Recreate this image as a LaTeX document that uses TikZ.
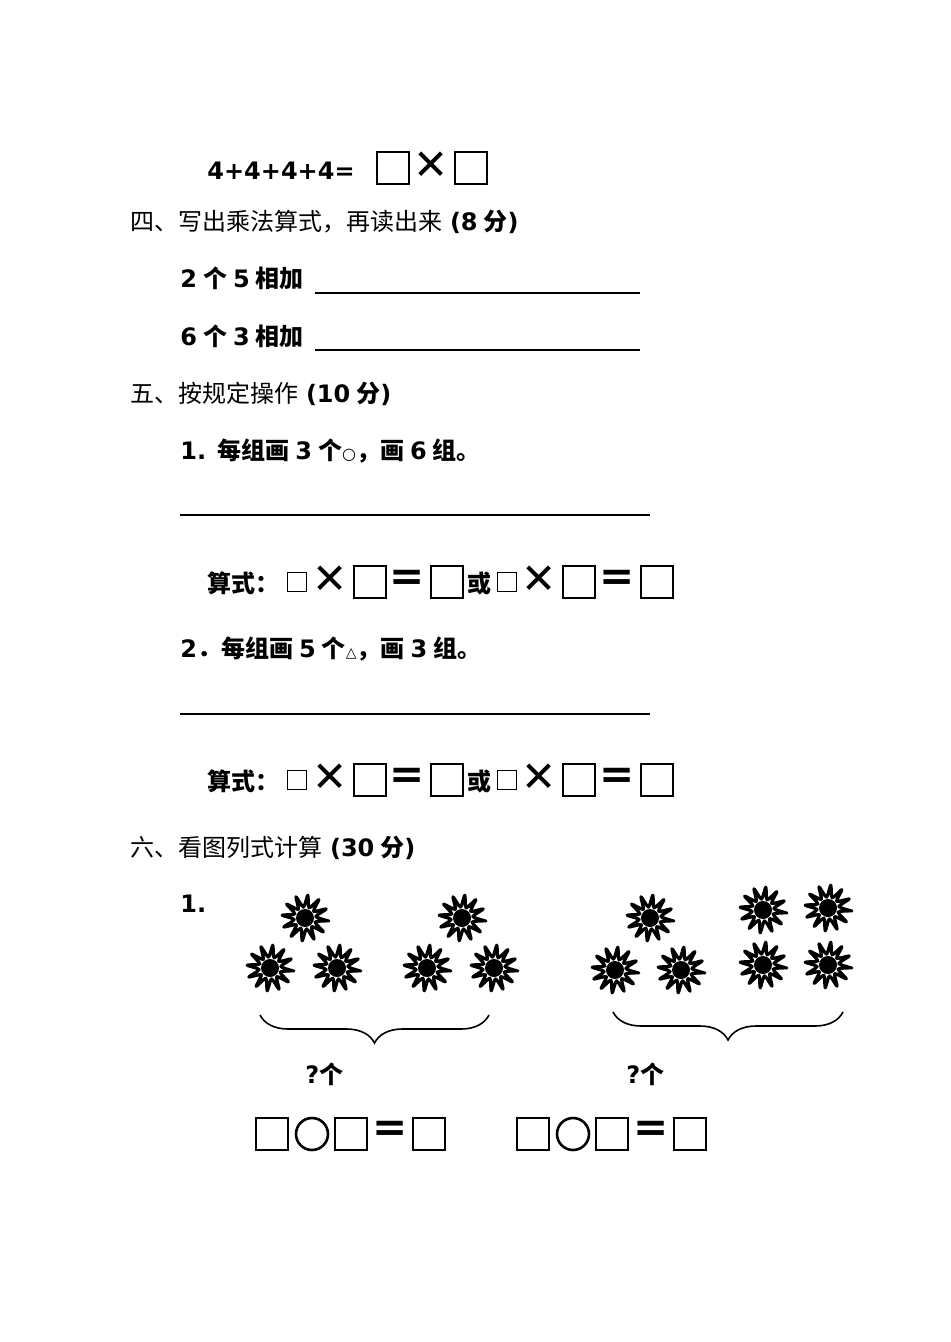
\documentclass[tikz,border=0pt]{standalone}
\usepackage{fontspec}
\setmainfont{DejaVu Sans}
\newfontfamily\cjk{Noto Sans CJK SC}
\usetikzlibrary{decorations.pathreplacing}
\newcommand\gp{\hspace{3pt}}
\tikzset{
 bx/.style={draw,line width=1.3pt,minimum width=16pt,minimum height=16pt,inner sep=0pt},
 sbx/.style={draw,line width=0.8pt,minimum width=9.5pt,minimum height=9.5pt,inner sep=0pt},
 tx/.style={anchor=base west,inner sep=0pt,font=\fontsize{12}{14}\selectfont},
 op/.style={inner sep=0pt,font=\fontsize{21}{21}\selectfont\bfseries},
 rule/.style={line width=0.7pt},
 bracestyle/.style={line width=0.8pt,decorate,decoration={brace,amplitude=14pt,mirror}},
 flower/.pic={
   \draw[line width=1.6pt,fill=white,line join=round] plot[smooth cycle,tension=0.4,samples=25,domain=0:24,variable=\k]
     ({(mod(\k,2)==0?23:11)*cos(\k*15+7)},{(mod(\k,2)==0?23:11)*sin(\k*15+7)});
   \fill (0,0) circle (9);
 }
}
\begin{document}
\begin{tikzpicture}[x=0.5pt,y=-0.5pt]
\path[use as bounding box] (0,0) rectangle (950,1342);
\node[tx] (t1) at (207,180) {\bfseries 4+4+4+4=};
\node[bx] (b1) at (393,168) {};
\node[op] (x1) at (431,166) {✕};
\node[bx] (b2) at (471,168) {};
\node[tx] (h4) at (130,231) {{\cjk 四、写出乘法算式，再读出来} \bfseries(8\gp{\cjk 分})};
\node[tx] (q1) at (180,288) {\bfseries 2\gp{\cjk\bfseries 个}\gp 5\gp{\cjk\bfseries 相加}};
\draw[rule] (315,293) coordinate (l1a) -- (640,293) coordinate (l1b);
\node[tx] (q2) at (180,345) {\bfseries 6\gp{\cjk\bfseries 个}\gp 3\gp{\cjk\bfseries 相加}};
\draw[rule] (315,350) coordinate (l2a) -- (640,350) coordinate (l2b);
\node[tx] (h5) at (130,402) {{\cjk 五、按规定操作} \bfseries(10\gp{\cjk 分})};
\node[tx] (p1) at (180,459) {\bfseries 1. {\cjk\bfseries 每组画}\gp 3\gp{\cjk\bfseries 个}{\fontsize{8}{8}\selectfont ○}{\cjk\bfseries ，画}\gp 6\gp{\cjk\bfseries 组。}};
\draw[rule] (180,515) coordinate (l3a) -- (650,515) coordinate (l3b);
\foreach \yy/\nm in {0/a,198/b}{
 \begin{scope}[yshift=-\yy*0.5pt]
 \node[tx] (s\nm) at (207,592) {\cjk\bfseries 算式：};
 \node[sbx] (s1\nm) at (297,582) {};
 \node[op] (x\nm1) at (330,580) {✕};
 \node[bx] (s2\nm) at (370,582) {};
 \node[op] (e\nm1) at (407,580) {=};
 \node[bx] (s3\nm) at (447,582) {};
 \node[tx] (o\nm) at (467,592) {\cjk\bfseries 或};
 \node[sbx] (s4\nm) at (507,582) {};
 \node[op] (x\nm2) at (539,580) {✕};
 \node[bx] (s5\nm) at (579,582) {};
 \node[op] (e\nm2) at (617,580) {=};
 \node[bx] (s6\nm) at (657,582) {};
 \end{scope}}
\node[tx] (p2) at (180,657) {\bfseries 2{\cjk\bfseries ．每组画}\gp 5\gp{\cjk\bfseries 个}{\fontsize{7}{7}\selectfont △}{\cjk\bfseries ，画}\gp 3\gp{\cjk\bfseries 组。}};
\draw[rule] (180,714) coordinate (l4a) -- (650,714) coordinate (l4b);
\node[tx] (h6) at (130,856) {{\cjk 六、看图列式计算} \bfseries(30\gp{\cjk 分})};
\node[tx] (n1) at (180,912) {\bfseries 1.};
\foreach \px/\py in {305/918,270/968,337/968,462/918,427/968,494/968,650/918,615/970,681/970,763/910,828/908,763/965,828/965}
  \pic at (\px,\py) {flower};
\draw[bracestyle] (260,1015) coordinate (bra) -- (489,1015) coordinate (brb);
\draw[bracestyle] (613,1012) coordinate (brc) -- (843,1012) coordinate (brd);
\node[tx] (qa) at (305,1083) {\bfseries ?{\cjk\bfseries 个}};
\node[tx] (qb) at (626,1083) {\bfseries ?{\cjk\bfseries 个}};
\foreach \xx/\nm in {0/l,261/r}{
 \begin{scope}[xshift=\xx*0.5pt]
 \node[bx] (c1\nm) at (272,1134) {};
 \node[draw,circle,line width=1.3pt,minimum size=16pt,inner sep=0pt] (c2\nm) at (312,1134) {};
 \node[bx] (c3\nm) at (351,1134) {};
 \node[op] (c4\nm) at (390,1131) {=};
 \node[bx] (c5\nm) at (429,1134) {};
 \end{scope}}
\end{tikzpicture}
\end{document}
